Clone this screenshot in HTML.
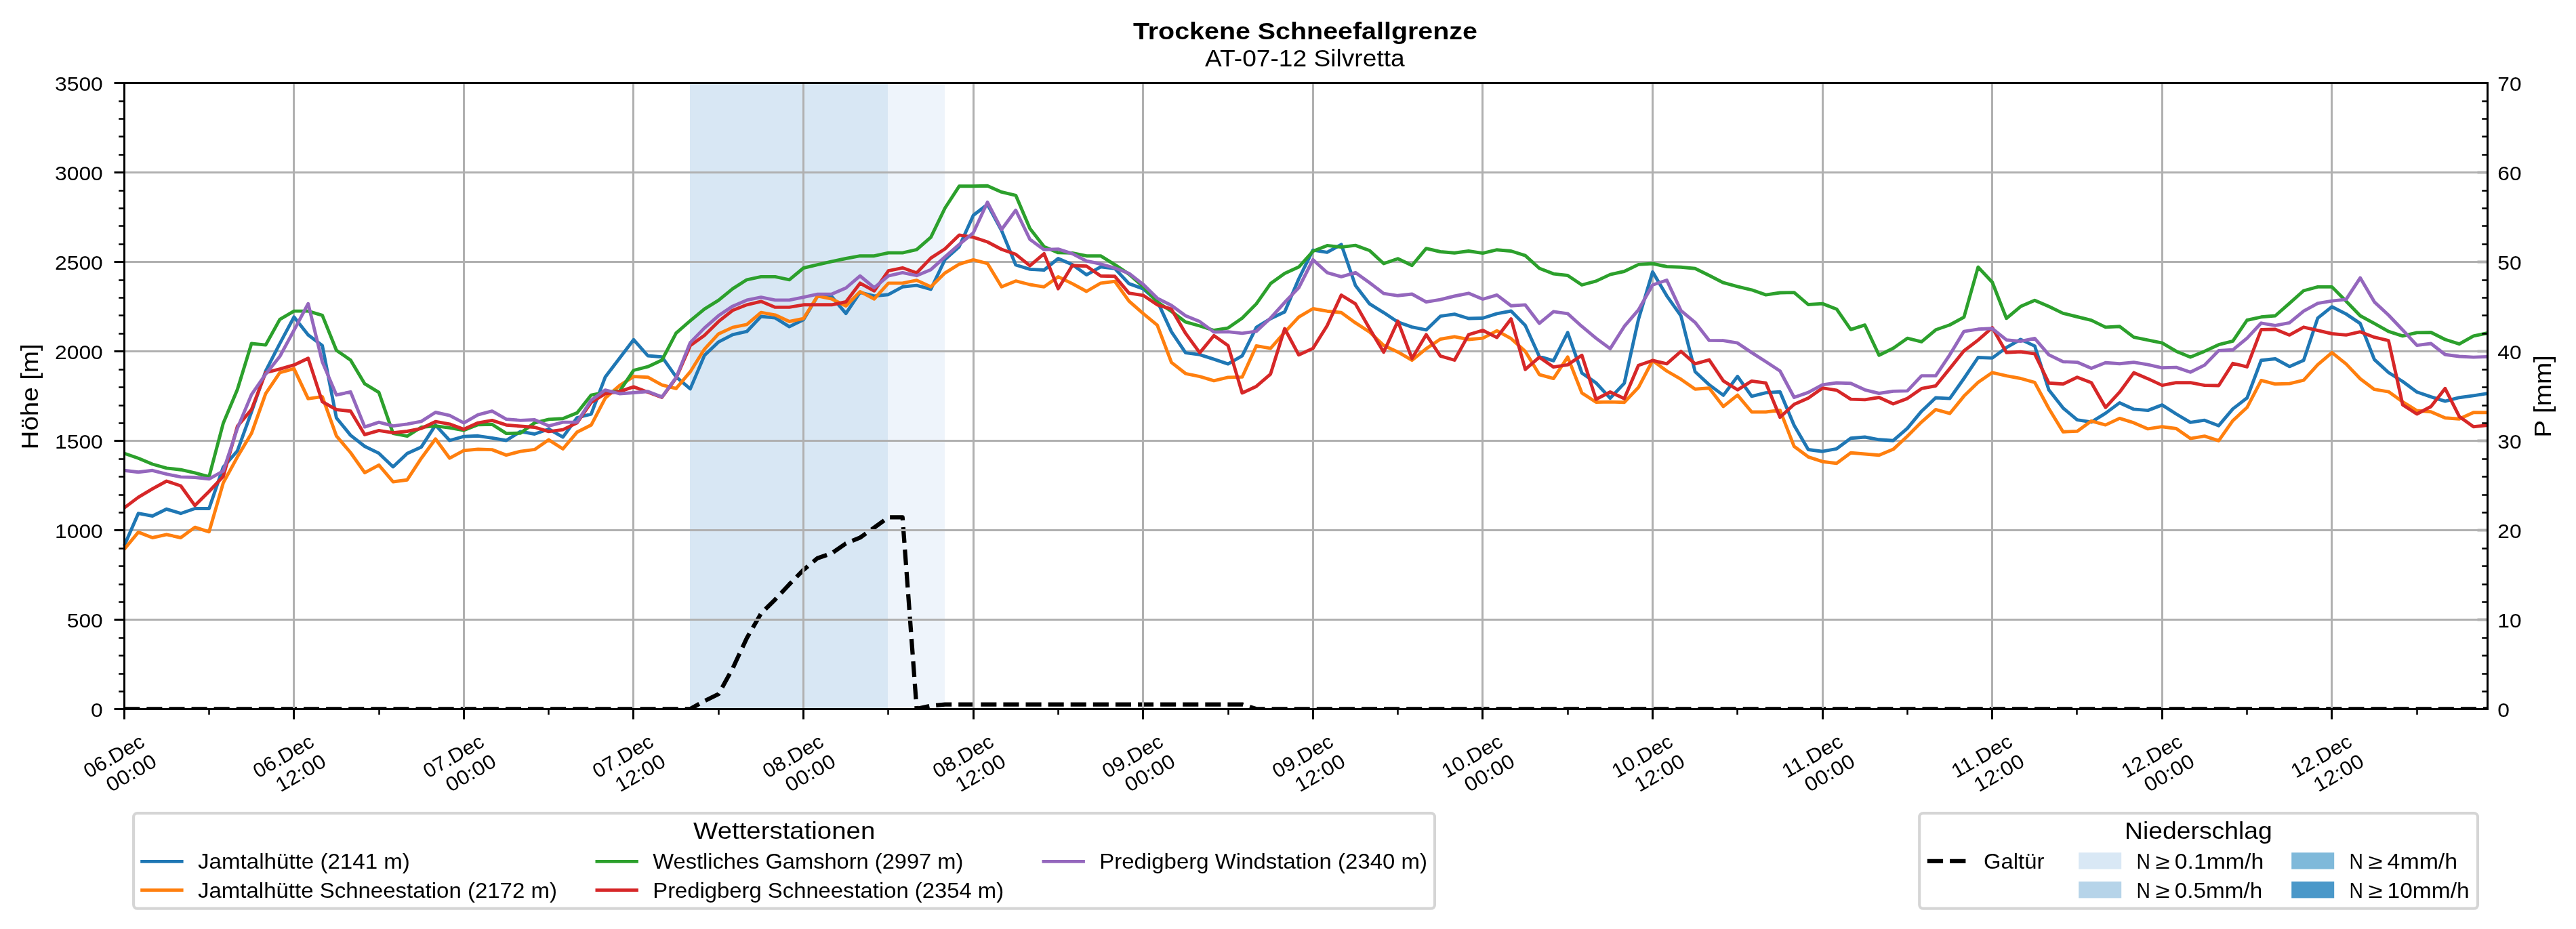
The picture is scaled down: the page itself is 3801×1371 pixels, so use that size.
<!DOCTYPE html>
<html lang="de"><head><meta charset="utf-8"><title>Trockene Schneefallgrenze</title>
<style>
html,body{margin:0;padding:0;background:#fff;}
body{width:3801px;height:1371px;overflow:hidden;font-family:"Liberation Sans",sans-serif;}
svg{display:block;}
svg text{font-family:"Liberation Sans",sans-serif;fill:#000;}
svg{will-change:transform;}
</style></head><body>
<svg width="3801" height="1371" viewBox="0 0 3801 1371">
<rect x="0" y="0" width="3801" height="1371" fill="#fff"/>
<clipPath id="ax"><rect x="183.5" y="122.5" width="3487.0" height="924.4"/></clipPath>
<rect x="1018" y="122.5" width="292" height="924.0" fill="#d8e7f4"/>
<rect x="1310" y="122.5" width="84" height="924.0" fill="#eef4fb"/>
<polyline clip-path="url(#ax)" points="183.2,1046.3 1018.5,1046.3 1039.4,1034.6 1060.3,1024.3 1081.1,986.4 1102.0,941.6 1122.9,905.4 1143.8,884.7 1164.7,862.3 1185.6,841.0 1206.4,823.7 1227.3,816.5 1248.2,802.0 1269.1,793.4 1290.0,778.6 1310.9,763.4 1331.7,763.4 1352.6,1046.0 1373.5,1041.5 1394.4,1039.6 1832.9,1039.6 1853.8,1046.3 3670.6,1046.3" fill="none" stroke="#000" stroke-width="6.25" stroke-dasharray="23.1 10" stroke-linejoin="round"/>
<path d="M433.5 122.5V1046.5M684.5 122.5V1046.5M934.5 122.5V1046.5M1185.5 122.5V1046.5M1436.5 122.5V1046.5M1686.5 122.5V1046.5M1937.5 122.5V1046.5M2187.5 122.5V1046.5M2438.5 122.5V1046.5M2689.5 122.5V1046.5M2939.5 122.5V1046.5M3190.5 122.5V1046.5M3440.5 122.5V1046.5M183.5 914.5H3670.5M183.5 782.5H3670.5M183.5 650.5H3670.5M183.5 518.5H3670.5M183.5 386.5H3670.5M183.5 254.5H3670.5" stroke="#b0b0b0" stroke-width="3" fill="none"/>
<polyline points="183.2,805.7 204.1,757.7 225.0,761.5 245.8,751.3 266.7,757.7 287.6,750.5 308.5,750.5 329.4,689.4 350.3,665.3 371.1,608.0 392.0,547.7 412.9,507.0 433.8,467.8 454.7,494.3 475.6,510.0 496.4,616.7 517.3,642.4 538.2,658.8 559.1,668.9 580.0,689.0 600.8,669.3 621.7,659.7 642.6,627.3 663.5,650.0 684.4,644.2 705.3,643.3 726.1,646.4 747.0,650.0 767.9,636.9 788.8,640.5 809.7,633.2 830.6,645.1 851.4,616.5 872.3,611.1 893.2,556.2 914.1,528.7 935.0,501.3 955.9,525.0 976.7,526.7 997.6,556.2 1018.5,573.9 1039.4,524.6 1060.3,504.6 1081.1,493.9 1102.0,489.2 1122.9,467.0 1143.8,469.1 1164.7,482.1 1185.6,471.7 1206.4,436.9 1227.3,437.9 1248.2,462.7 1269.1,431.5 1290.0,436.9 1310.9,434.7 1331.7,423.3 1352.6,421.1 1373.5,426.9 1394.4,383.0 1415.3,364.1 1436.2,317.8 1457.0,301.7 1477.9,340.4 1498.8,391.0 1519.7,397.4 1540.6,398.5 1561.4,381.5 1582.3,390.6 1603.2,405.6 1624.1,393.8 1645.0,396.4 1665.9,418.6 1686.7,426.1 1707.6,444.4 1728.5,489.6 1749.4,520.6 1770.3,523.4 1791.2,530.2 1812.0,537.1 1832.9,525.1 1853.8,483.2 1874.7,470.3 1895.6,460.3 1916.4,411.5 1937.3,369.1 1958.2,372.4 1979.1,360.8 2000.0,421.3 2020.9,448.4 2041.7,461.3 2062.6,475.3 2083.5,482.6 2104.4,486.9 2125.3,466.7 2146.2,463.6 2167.0,470.0 2187.9,469.5 2208.8,462.9 2229.7,459.0 2250.6,480.3 2271.4,526.2 2292.3,532.4 2313.2,490.8 2334.1,550.4 2355.0,565.0 2375.9,587.6 2396.7,565.6 2417.6,471.4 2438.5,401.3 2459.4,436.6 2480.3,466.2 2501.2,548.5 2522.0,567.9 2542.9,583.4 2563.8,555.5 2584.7,584.8 2605.6,579.6 2626.5,578.2 2647.3,627.8 2668.2,663.5 2689.1,666.2 2710.0,662.3 2730.9,646.8 2751.7,645.0 2772.6,648.8 2793.5,650.2 2814.4,632.1 2835.3,606.9 2856.2,587.0 2877.0,588.1 2897.9,558.5 2918.8,527.5 2939.7,528.4 2960.6,512.9 2981.5,500.9 3002.3,510.6 3023.2,575.5 3044.1,602.1 3065.0,619.6 3085.9,622.8 3106.8,609.9 3127.6,594.4 3148.5,603.9 3169.4,605.6 3190.3,597.6 3211.2,611.0 3232.0,623.3 3252.9,620.2 3273.8,628.2 3294.7,603.4 3315.6,587.3 3336.5,531.7 3357.3,529.5 3378.2,540.9 3399.1,531.7 3420.0,469.3 3440.9,452.7 3461.8,463.4 3482.6,477.4 3503.5,530.6 3524.4,549.7 3545.3,563.0 3566.2,578.5 3587.0,585.6 3607.9,592.1 3628.8,586.7 3649.7,583.9 3670.6,580.7" fill="none" stroke="#1f77b4" stroke-width="4.9" stroke-linejoin="round" stroke-linecap="butt"/>
<polyline points="183.2,810.7 204.1,785.4 225.0,793.5 245.8,788.8 266.7,793.5 287.6,778.1 308.5,784.8 329.4,712.7 350.3,674.3 371.1,639.6 392.0,580.9 412.9,549.8 433.8,544.1 454.7,588.4 475.6,585.4 496.4,643.3 517.3,668.0 538.2,697.6 559.1,686.3 580.0,711.0 600.8,708.2 621.7,676.2 642.6,647.8 663.5,676.2 684.4,664.9 705.3,663.0 726.1,663.6 747.0,671.6 767.9,666.1 788.8,663.4 809.7,649.1 830.6,662.5 851.4,637.8 872.3,627.3 893.2,587.4 914.1,569.1 935.0,555.6 955.9,556.7 976.7,568.1 997.6,573.4 1018.5,548.7 1039.4,515.3 1060.3,492.7 1081.1,483.1 1102.0,478.8 1122.9,461.2 1143.8,464.8 1164.7,474.5 1185.6,470.2 1206.4,436.9 1227.3,441.2 1248.2,451.5 1269.1,430.4 1290.0,441.2 1310.9,417.9 1331.7,417.9 1352.6,413.6 1373.5,423.3 1394.4,402.8 1415.3,389.9 1436.2,383.4 1457.0,388.8 1477.9,423.3 1498.8,414.7 1519.7,420.0 1540.6,423.3 1561.4,408.4 1582.3,418.6 1603.2,430.0 1624.1,417.9 1645.0,415.3 1665.9,444.4 1686.7,462.7 1707.6,479.8 1728.5,534.9 1749.4,551.3 1770.3,555.6 1791.2,561.9 1812.0,556.9 1832.9,556.4 1853.8,510.4 1874.7,514.2 1895.6,490.4 1916.4,467.8 1937.3,455.5 1958.2,459.2 1979.1,461.3 2000.0,476.4 2020.9,490.0 2041.7,509.8 2062.6,519.4 2083.5,531.6 2104.4,514.6 2125.3,500.5 2146.2,496.8 2167.0,501.0 2187.9,499.1 2208.8,488.1 2229.7,499.7 2250.6,518.5 2271.4,552.8 2292.3,558.6 2313.2,526.8 2334.1,579.9 2355.0,593.5 2375.9,593.1 2396.7,593.7 2417.6,571.8 2438.5,532.0 2459.4,547.5 2480.3,559.7 2501.2,574.3 2522.0,572.7 2542.9,599.9 2563.8,583.1 2584.7,608.0 2605.6,608.0 2626.5,605.4 2647.3,658.8 2668.2,674.3 2689.1,681.2 2710.0,683.8 2730.9,668.3 2751.7,670.0 2772.6,671.7 2793.5,663.1 2814.4,643.7 2835.3,622.8 2856.2,604.4 2877.0,610.2 2897.9,584.6 2918.8,564.3 2939.7,549.8 2960.6,554.6 2981.5,558.5 3002.3,564.3 3023.2,603.0 3044.1,637.3 3065.0,636.4 3085.9,621.3 3106.8,627.1 3127.6,617.4 3148.5,623.9 3169.4,632.9 3190.3,629.7 3211.2,632.5 3232.0,647.1 3252.9,643.7 3273.8,650.4 3294.7,620.7 3315.6,601.3 3336.5,561.4 3357.3,566.8 3378.2,566.1 3399.1,561.2 3420.0,538.1 3440.9,520.3 3461.8,537.1 3482.6,559.0 3503.5,574.7 3524.4,578.1 3545.3,593.1 3566.2,606.0 3587.0,607.8 3607.9,616.8 3628.8,618.3 3649.7,608.8 3670.6,608.8" fill="none" stroke="#ff7f0e" stroke-width="4.9" stroke-linejoin="round" stroke-linecap="butt"/>
<polyline points="183.2,669.0 204.1,676.3 225.0,685.0 245.8,690.9 266.7,693.2 287.6,697.8 308.5,703.6 329.4,624.6 350.3,574.8 371.1,507.0 392.0,509.1 412.9,471.4 433.8,459.1 454.7,459.1 475.6,465.4 496.4,517.0 517.3,531.4 538.2,566.4 559.1,579.2 580.0,639.6 600.8,643.6 621.7,630.5 642.6,628.6 663.5,631.4 684.4,635.0 705.3,626.8 726.1,626.3 747.0,639.6 767.9,639.2 788.8,624.1 809.7,618.9 830.6,617.7 851.4,609.4 872.3,583.1 893.2,578.8 914.1,577.3 935.0,546.5 955.9,541.2 976.7,531.5 997.6,491.7 1018.5,473.4 1039.4,456.1 1060.3,443.2 1081.1,426.1 1102.0,412.8 1122.9,408.4 1143.8,408.4 1164.7,412.8 1185.6,395.5 1206.4,390.6 1227.3,385.8 1248.2,381.5 1269.1,377.7 1290.0,377.7 1310.9,373.1 1331.7,373.1 1352.6,368.4 1373.5,350.1 1394.4,307.0 1415.3,274.8 1436.2,274.8 1457.0,274.3 1477.9,283.4 1498.8,288.3 1519.7,337.2 1540.6,364.1 1561.4,372.9 1582.3,373.4 1603.2,377.7 1624.1,377.7 1645.0,390.6 1665.9,404.6 1686.7,422.9 1707.6,445.5 1728.5,459.5 1749.4,475.2 1770.3,481.0 1791.2,487.5 1812.0,484.1 1832.9,469.5 1853.8,448.4 1874.7,418.6 1895.6,403.4 1916.4,394.1 1937.3,370.8 1958.2,362.4 1979.1,364.6 2000.0,362.1 2020.9,369.7 2041.7,389.0 2062.6,381.7 2083.5,391.8 2104.4,366.6 2125.3,371.5 2146.2,373.3 2167.0,370.5 2187.9,373.6 2208.8,368.7 2229.7,370.5 2250.6,377.1 2271.4,396.0 2292.3,404.1 2313.2,406.5 2334.1,420.5 2355.0,414.9 2375.9,405.1 2396.7,400.5 2417.6,390.4 2438.5,389.0 2459.4,393.5 2480.3,394.3 2501.2,396.3 2522.0,406.5 2542.9,417.2 2563.8,422.9 2584.7,427.8 2605.6,435.1 2626.5,432.0 2647.3,431.6 2668.2,449.5 2689.1,448.1 2710.0,456.2 2730.9,486.3 2751.7,479.7 2772.6,524.2 2793.5,514.0 2814.4,499.2 2835.3,504.3 2856.2,486.8 2877.0,479.5 2897.9,468.2 2918.8,394.2 2939.7,416.5 2960.6,469.8 2981.5,452.3 3002.3,443.2 3023.2,452.3 3044.1,462.4 3065.0,467.5 3085.9,472.6 3106.8,482.9 3127.6,481.8 3148.5,497.6 3169.4,501.9 3190.3,506.2 3211.2,518.4 3232.0,527.0 3252.9,518.4 3273.8,508.7 3294.7,503.4 3315.6,472.5 3336.5,467.8 3357.3,466.0 3378.2,447.7 3399.1,429.0 3420.0,423.4 3440.9,423.4 3461.8,444.5 3482.6,466.0 3503.5,477.4 3524.4,489.2 3545.3,495.8 3566.2,490.9 3587.0,490.5 3607.9,501.0 3628.8,507.7 3649.7,495.8 3670.6,491.5" fill="none" stroke="#2ca02c" stroke-width="4.9" stroke-linejoin="round" stroke-linecap="butt"/>
<polyline points="183.2,749.6 204.1,733.9 225.0,721.4 245.8,710.0 266.7,717.0 287.6,746.1 308.5,725.2 329.4,703.1 350.3,629.1 371.1,604.4 392.0,549.8 412.9,544.7 433.8,538.7 454.7,528.7 475.6,592.9 496.4,604.5 517.3,606.7 538.2,641.4 559.1,635.4 580.0,638.7 600.8,636.5 621.7,632.3 642.6,622.2 663.5,625.9 684.4,633.6 705.3,624.1 726.1,620.4 747.0,627.2 767.9,629.0 788.8,630.5 809.7,636.9 830.6,634.1 851.4,624.1 872.3,593.9 893.2,581.0 914.1,577.8 935.0,570.9 955.9,578.8 976.7,586.4 997.6,558.0 1018.5,510.0 1039.4,494.9 1060.3,474.4 1081.1,458.0 1102.0,449.8 1122.9,444.8 1143.8,453.4 1164.7,453.4 1185.6,449.8 1206.4,449.8 1227.3,449.8 1248.2,445.5 1269.1,417.9 1290.0,429.3 1310.9,399.6 1331.7,395.3 1352.6,402.8 1373.5,380.9 1394.4,367.3 1415.3,346.9 1436.2,350.1 1457.0,357.0 1477.9,368.0 1498.8,375.3 1519.7,392.1 1540.6,374.4 1561.4,426.1 1582.3,391.7 1603.2,392.7 1624.1,407.2 1645.0,407.8 1665.9,432.6 1686.7,435.8 1707.6,449.8 1728.5,456.2 1749.4,491.9 1770.3,520.6 1791.2,495.3 1812.0,509.9 1832.9,580.0 1853.8,570.2 1874.7,552.1 1895.6,485.0 1916.4,523.8 1937.3,514.1 1958.2,480.7 1979.1,435.5 2000.0,448.4 2020.9,485.0 2041.7,519.8 2062.6,473.9 2083.5,529.1 2104.4,493.9 2125.3,525.3 2146.2,531.5 2167.0,493.9 2187.9,487.5 2208.8,498.1 2229.7,470.6 2250.6,545.2 2271.4,527.2 2292.3,541.7 2313.2,538.4 2334.1,524.3 2355.0,589.2 2375.9,578.5 2396.7,588.2 2417.6,539.2 2438.5,532.0 2459.4,536.9 2480.3,518.5 2501.2,536.9 2522.0,531.1 2542.9,562.1 2563.8,575.3 2584.7,562.4 2605.6,565.3 2626.5,615.8 2647.3,596.8 2668.2,587.4 2689.1,572.7 2710.0,575.8 2730.9,589.1 2751.7,589.9 2772.6,586.5 2793.5,596.0 2814.4,588.1 2835.3,573.4 2856.2,569.5 2877.0,543.9 2897.9,517.8 2918.8,501.9 2939.7,483.5 2960.6,520.3 2981.5,519.1 3002.3,522.2 3023.2,565.3 3044.1,566.8 3065.0,556.7 3085.9,564.7 3106.8,601.3 3127.6,578.7 3148.5,550.1 3169.4,558.9 3190.3,568.6 3211.2,564.7 3232.0,564.7 3252.9,568.6 3273.8,569.0 3294.7,536.3 3315.6,541.4 3336.5,486.5 3357.3,486.0 3378.2,494.4 3399.1,482.8 3420.0,487.6 3440.9,492.5 3461.8,494.4 3482.6,489.7 3503.5,497.7 3524.4,502.7 3545.3,597.4 3566.2,611.0 3587.0,600.0 3607.9,573.3 3628.8,614.7 3649.7,629.7 3670.6,627.6" fill="none" stroke="#d62728" stroke-width="4.9" stroke-linejoin="round" stroke-linecap="butt"/>
<polyline points="183.2,694.3 204.1,696.7 225.0,694.3 245.8,699.6 266.7,703.9 287.6,704.5 308.5,706.8 329.4,695.2 350.3,632.1 371.1,582.4 392.0,552.2 412.9,526.0 433.8,487.4 454.7,448.2 475.6,534.1 496.4,582.9 517.3,578.3 538.2,630.1 559.1,623.1 580.0,628.6 600.8,625.9 621.7,621.9 642.6,608.5 663.5,613.1 684.4,624.1 705.3,612.2 726.1,606.7 747.0,618.6 767.9,620.4 788.8,619.5 809.7,628.6 830.6,623.1 851.4,623.1 872.3,590.7 893.2,575.6 914.1,581.0 935.0,579.5 955.9,577.8 976.7,585.9 997.6,557.3 1018.5,505.6 1039.4,484.1 1060.3,465.8 1081.1,451.9 1102.0,442.9 1122.9,438.6 1143.8,442.9 1164.7,442.9 1185.6,438.6 1206.4,434.1 1227.3,434.1 1248.2,425.0 1269.1,407.2 1290.0,424.6 1310.9,407.1 1331.7,402.4 1352.6,406.7 1373.5,397.9 1394.4,379.1 1415.3,360.8 1436.2,343.6 1457.0,298.4 1477.9,338.7 1498.8,310.3 1519.7,353.3 1540.6,368.4 1561.4,367.6 1582.3,374.4 1603.2,385.2 1624.1,389.5 1645.0,395.5 1665.9,403.5 1686.7,419.6 1707.6,440.1 1728.5,450.8 1749.4,465.9 1770.3,474.6 1791.2,490.1 1812.0,489.6 1832.9,491.9 1853.8,488.9 1874.7,469.5 1895.6,446.3 1916.4,424.6 1937.3,383.3 1958.2,402.3 1979.1,408.3 2000.0,402.3 2020.9,417.2 2041.7,433.1 2062.6,436.3 2083.5,434.0 2104.4,445.7 2125.3,442.2 2146.2,437.0 2167.0,432.8 2187.9,441.5 2208.8,435.4 2229.7,451.3 2250.6,449.9 2271.4,477.2 2292.3,459.8 2313.2,462.9 2334.1,481.7 2355.0,499.1 2375.9,514.6 2396.7,481.7 2417.6,457.4 2438.5,420.5 2459.4,413.5 2480.3,458.4 2501.2,475.8 2522.0,502.4 2542.9,502.6 2563.8,506.2 2584.7,520.4 2605.6,533.7 2626.5,547.5 2647.3,586.5 2668.2,579.1 2689.1,567.9 2710.0,565.0 2730.9,565.8 2751.7,575.3 2772.6,580.5 2793.5,577.4 2814.4,576.9 2835.3,554.6 2856.2,554.6 2877.0,523.6 2897.9,489.1 2918.8,485.8 2939.7,484.8 2960.6,501.7 2981.5,503.6 3002.3,499.4 3023.2,523.6 3044.1,533.7 3065.0,534.6 3085.9,543.6 3106.8,535.2 3127.6,536.7 3148.5,534.6 3169.4,538.2 3190.3,542.8 3211.2,542.1 3232.0,549.2 3252.9,538.9 3273.8,517.4 3294.7,516.3 3315.6,499.1 3336.5,476.8 3357.3,480.4 3378.2,476.4 3399.1,459.1 3420.0,447.7 3440.9,444.1 3461.8,441.9 3482.6,410.1 3503.5,445.6 3524.4,465.0 3545.3,487.0 3566.2,509.6 3587.0,507.0 3607.9,523.2 3628.8,526.0 3649.7,527.1 3670.6,526.4" fill="none" stroke="#9467bd" stroke-width="4.9" stroke-linejoin="round" stroke-linecap="butt"/>
<path d="M3670.5 914.5h-15M3670.5 782.5h-15M3670.5 650.5h-15M3670.5 518.5h-15M3670.5 386.5h-15M3670.5 254.5h-15" stroke="#b0b0b0" stroke-width="4.2" fill="none"/>
<path d="M3670.5 1020.5h-8.3M3670.5 994.5h-8.3M3670.5 967.5h-8.3M3670.5 941.5h-8.3M3670.5 888.5h-8.3M3670.5 862.5h-8.3M3670.5 835.5h-8.3M3670.5 809.5h-8.3M3670.5 756.5h-8.3M3670.5 730.5h-8.3M3670.5 703.5h-8.3M3670.5 677.5h-8.3M3670.5 624.5h-8.3M3670.5 598.5h-8.3M3670.5 571.5h-8.3M3670.5 545.5h-8.3M3670.5 492.5h-8.3M3670.5 465.5h-8.3M3670.5 439.5h-8.3M3670.5 413.5h-8.3M3670.5 360.5h-8.3M3670.5 333.5h-8.3M3670.5 307.5h-8.3M3670.5 281.5h-8.3M3670.5 228.5h-8.3M3670.5 201.5h-8.3M3670.5 175.5h-8.3M3670.5 149.5h-8.3M183.5 1020.5h-8.3M183.5 994.5h-8.3M183.5 967.5h-8.3M183.5 941.5h-8.3M183.5 888.5h-8.3M183.5 862.5h-8.3M183.5 835.5h-8.3M183.5 809.5h-8.3M183.5 756.5h-8.3M183.5 730.5h-8.3M183.5 703.5h-8.3M183.5 677.5h-8.3M183.5 624.5h-8.3M183.5 598.5h-8.3M183.5 571.5h-8.3M183.5 545.5h-8.3M183.5 492.5h-8.3M183.5 465.5h-8.3M183.5 439.5h-8.3M183.5 413.5h-8.3M183.5 360.5h-8.3M183.5 333.5h-8.3M183.5 307.5h-8.3M183.5 281.5h-8.3M183.5 228.5h-8.3M183.5 201.5h-8.3M183.5 175.5h-8.3M183.5 149.5h-8.3M308.5 1046.5v8.3M559.5 1046.5v8.3M809.5 1046.5v8.3M1060.5 1046.5v8.3M1310.5 1046.5v8.3M1561.5 1046.5v8.3M1812.5 1046.5v8.3M2062.5 1046.5v8.3M2313.5 1046.5v8.3M2563.5 1046.5v8.3M2814.5 1046.5v8.3M3064.5 1046.5v8.3M3315.5 1046.5v8.3M3566.5 1046.5v8.3" stroke="#000" stroke-width="2.5" fill="none"/>
<path d="M183.5 1046.5h-15M183.5 914.5h-15M183.5 782.5h-15M183.5 650.5h-15M183.5 518.5h-15M183.5 386.5h-15M183.5 254.5h-15M183.5 122.5h-15M183.5 1046.5v15M433.5 1046.5v15M684.5 1046.5v15M934.5 1046.5v15M1185.5 1046.5v15M1436.5 1046.5v15M1686.5 1046.5v15M1937.5 1046.5v15M2187.5 1046.5v15M2438.5 1046.5v15M2689.5 1046.5v15M2939.5 1046.5v15M3190.5 1046.5v15M3440.5 1046.5v15" stroke="#000" stroke-width="3" fill="none"/>
<rect x="183.5" y="122.5" width="3487.0" height="924.0" fill="none" stroke="#000" stroke-width="3"/>
<text x="134.1" y="1057.7" font-size="29.86" textLength="17.7" lengthAdjust="spacingAndGlyphs">0</text>
<text x="98.8" y="925.7" font-size="29.86" textLength="53.0" lengthAdjust="spacingAndGlyphs">500</text>
<text x="81.1" y="793.7" font-size="29.86" textLength="70.7" lengthAdjust="spacingAndGlyphs">1000</text>
<text x="81.1" y="661.7" font-size="29.86" textLength="70.7" lengthAdjust="spacingAndGlyphs">1500</text>
<text x="81.1" y="529.7" font-size="29.86" textLength="70.7" lengthAdjust="spacingAndGlyphs">2000</text>
<text x="81.1" y="397.7" font-size="29.86" textLength="70.7" lengthAdjust="spacingAndGlyphs">2500</text>
<text x="81.1" y="265.7" font-size="29.86" textLength="70.7" lengthAdjust="spacingAndGlyphs">3000</text>
<text x="81.1" y="133.7" font-size="29.86" textLength="70.7" lengthAdjust="spacingAndGlyphs">3500</text>
<text x="3685.3" y="1057.7" font-size="29.86" textLength="17.7" lengthAdjust="spacingAndGlyphs">0</text>
<text x="3685.3" y="925.7" font-size="29.86" textLength="35.3" lengthAdjust="spacingAndGlyphs">10</text>
<text x="3685.3" y="793.7" font-size="29.86" textLength="35.3" lengthAdjust="spacingAndGlyphs">20</text>
<text x="3685.3" y="661.7" font-size="29.86" textLength="35.3" lengthAdjust="spacingAndGlyphs">30</text>
<text x="3685.3" y="529.7" font-size="29.86" textLength="35.3" lengthAdjust="spacingAndGlyphs">40</text>
<text x="3685.3" y="397.7" font-size="29.86" textLength="35.3" lengthAdjust="spacingAndGlyphs">50</text>
<text x="3685.3" y="265.7" font-size="29.86" textLength="35.3" lengthAdjust="spacingAndGlyphs">60</text>
<text x="3685.3" y="133.7" font-size="29.86" textLength="35.3" lengthAdjust="spacingAndGlyphs">70</text>
<g transform="translate(167.9 1115.6) rotate(-30)"><text x="-49.0" y="10.4" font-size="29.72" textLength="97.9" lengthAdjust="spacingAndGlyphs">06.Dec</text></g>
<g transform="translate(193.4 1140.5) rotate(-30)"><text x="-40.0" y="10.4" font-size="29.86" textLength="80.1" lengthAdjust="spacingAndGlyphs">00:00</text></g>
<g transform="translate(417.9 1115.6) rotate(-30)"><text x="-49.0" y="10.4" font-size="29.72" textLength="97.9" lengthAdjust="spacingAndGlyphs">06.Dec</text></g>
<g transform="translate(443.4 1140.5) rotate(-30)"><text x="-40.0" y="10.4" font-size="29.86" textLength="80.1" lengthAdjust="spacingAndGlyphs">12:00</text></g>
<g transform="translate(668.9 1115.6) rotate(-30)"><text x="-49.0" y="10.4" font-size="29.72" textLength="97.9" lengthAdjust="spacingAndGlyphs">07.Dec</text></g>
<g transform="translate(694.4 1140.5) rotate(-30)"><text x="-40.0" y="10.4" font-size="29.86" textLength="80.1" lengthAdjust="spacingAndGlyphs">00:00</text></g>
<g transform="translate(918.9 1115.6) rotate(-30)"><text x="-49.0" y="10.4" font-size="29.72" textLength="97.9" lengthAdjust="spacingAndGlyphs">07.Dec</text></g>
<g transform="translate(944.4 1140.5) rotate(-30)"><text x="-40.0" y="10.4" font-size="29.86" textLength="80.1" lengthAdjust="spacingAndGlyphs">12:00</text></g>
<g transform="translate(1169.9 1115.6) rotate(-30)"><text x="-49.0" y="10.4" font-size="29.72" textLength="97.9" lengthAdjust="spacingAndGlyphs">08.Dec</text></g>
<g transform="translate(1195.4 1140.5) rotate(-30)"><text x="-40.0" y="10.4" font-size="29.86" textLength="80.1" lengthAdjust="spacingAndGlyphs">00:00</text></g>
<g transform="translate(1420.9 1115.6) rotate(-30)"><text x="-49.0" y="10.4" font-size="29.72" textLength="97.9" lengthAdjust="spacingAndGlyphs">08.Dec</text></g>
<g transform="translate(1446.4 1140.5) rotate(-30)"><text x="-40.0" y="10.4" font-size="29.86" textLength="80.1" lengthAdjust="spacingAndGlyphs">12:00</text></g>
<g transform="translate(1670.9 1115.6) rotate(-30)"><text x="-49.0" y="10.4" font-size="29.72" textLength="97.9" lengthAdjust="spacingAndGlyphs">09.Dec</text></g>
<g transform="translate(1696.4 1140.5) rotate(-30)"><text x="-40.0" y="10.4" font-size="29.86" textLength="80.1" lengthAdjust="spacingAndGlyphs">00:00</text></g>
<g transform="translate(1921.9 1115.6) rotate(-30)"><text x="-49.0" y="10.4" font-size="29.72" textLength="97.9" lengthAdjust="spacingAndGlyphs">09.Dec</text></g>
<g transform="translate(1947.4 1140.5) rotate(-30)"><text x="-40.0" y="10.4" font-size="29.86" textLength="80.1" lengthAdjust="spacingAndGlyphs">12:00</text></g>
<g transform="translate(2171.9 1115.6) rotate(-30)"><text x="-49.0" y="10.4" font-size="29.72" textLength="97.9" lengthAdjust="spacingAndGlyphs">10.Dec</text></g>
<g transform="translate(2197.4 1140.5) rotate(-30)"><text x="-40.0" y="10.4" font-size="29.86" textLength="80.1" lengthAdjust="spacingAndGlyphs">00:00</text></g>
<g transform="translate(2422.9 1115.6) rotate(-30)"><text x="-49.0" y="10.4" font-size="29.72" textLength="97.9" lengthAdjust="spacingAndGlyphs">10.Dec</text></g>
<g transform="translate(2448.4 1140.5) rotate(-30)"><text x="-40.0" y="10.4" font-size="29.86" textLength="80.1" lengthAdjust="spacingAndGlyphs">12:00</text></g>
<g transform="translate(2673.9 1115.6) rotate(-30)"><text x="-49.0" y="10.4" font-size="29.72" textLength="97.9" lengthAdjust="spacingAndGlyphs">11.Dec</text></g>
<g transform="translate(2699.4 1140.5) rotate(-30)"><text x="-40.0" y="10.4" font-size="29.86" textLength="80.1" lengthAdjust="spacingAndGlyphs">00:00</text></g>
<g transform="translate(2923.9 1115.6) rotate(-30)"><text x="-49.0" y="10.4" font-size="29.72" textLength="97.9" lengthAdjust="spacingAndGlyphs">11.Dec</text></g>
<g transform="translate(2949.4 1140.5) rotate(-30)"><text x="-40.0" y="10.4" font-size="29.86" textLength="80.1" lengthAdjust="spacingAndGlyphs">12:00</text></g>
<g transform="translate(3174.9 1115.6) rotate(-30)"><text x="-49.0" y="10.4" font-size="29.72" textLength="97.9" lengthAdjust="spacingAndGlyphs">12.Dec</text></g>
<g transform="translate(3200.4 1140.5) rotate(-30)"><text x="-40.0" y="10.4" font-size="29.86" textLength="80.1" lengthAdjust="spacingAndGlyphs">00:00</text></g>
<g transform="translate(3424.9 1115.6) rotate(-30)"><text x="-49.0" y="10.4" font-size="29.72" textLength="97.9" lengthAdjust="spacingAndGlyphs">12.Dec</text></g>
<g transform="translate(3450.4 1140.5) rotate(-30)"><text x="-40.0" y="10.4" font-size="29.86" textLength="80.1" lengthAdjust="spacingAndGlyphs">12:00</text></g>
<g transform="translate(56.3 585.3) rotate(-90)"><text x="-78.1" y="0.0" font-size="35.16" textLength="156.2" lengthAdjust="spacingAndGlyphs">Höhe [m]</text></g>
<g transform="translate(3763.6 585.0) rotate(-90)"><text x="-60.8" y="0.0" font-size="35.16" textLength="121.6" lengthAdjust="spacingAndGlyphs">P [mm]</text></g>
<text x="1671.9" y="58.2" font-size="35.16" font-weight="bold" textLength="508.0" lengthAdjust="spacingAndGlyphs">Trockene Schneefallgrenze</text>
<text x="1778.1" y="98.1" font-size="35.16" textLength="294.6" lengthAdjust="spacingAndGlyphs">AT-07-12 Silvretta</text>
<rect x="197.1" y="1200.1" width="1919.9" height="140.7" rx="5.5" ry="5.5" fill="#fff" stroke="#d5d5d5" stroke-width="4.1"/>
<text x="1023.1" y="1238.2" font-size="35.16" textLength="268.2" lengthAdjust="spacingAndGlyphs">Wetterstationen</text>
<path d="M207.2 1271.4h63.4" stroke="#1f77b4" stroke-width="4.9" fill="none"/>
<text x="292.0" y="1282.0" font-size="30.77" textLength="312.9" lengthAdjust="spacingAndGlyphs">Jamtalhütte (2141 m)</text>
<path d="M207.2 1313.6h63.4" stroke="#ff7f0e" stroke-width="4.9" fill="none"/>
<text x="292.0" y="1324.8" font-size="30.77" textLength="529.9" lengthAdjust="spacingAndGlyphs">Jamtalhütte Schneestation (2172 m)</text>
<path d="M878.5 1271.4h63.4" stroke="#2ca02c" stroke-width="4.9" fill="none"/>
<text x="963.3" y="1282.0" font-size="30.77" textLength="458.0" lengthAdjust="spacingAndGlyphs">Westliches Gamshorn (2997 m)</text>
<path d="M878.5 1313.6h63.4" stroke="#d62728" stroke-width="4.9" fill="none"/>
<text x="963.3" y="1324.8" font-size="30.77" textLength="517.8" lengthAdjust="spacingAndGlyphs">Predigberg Schneestation (2354 m)</text>
<path d="M1537.5 1271.4h63.4" stroke="#9467bd" stroke-width="4.9" fill="none"/>
<text x="1622.3" y="1282.0" font-size="30.77" textLength="483.7" lengthAdjust="spacingAndGlyphs">Predigberg Windstation (2340 m)</text>
<rect x="2832.2" y="1200.1" width="823.8" height="140.7" rx="5.5" ry="5.5" fill="#fff" stroke="#d5d5d5" stroke-width="4.1"/>
<text x="3135.1" y="1238.3" font-size="35.16" textLength="217.7" lengthAdjust="spacingAndGlyphs">Niederschlag</text>
<path d="M2843.8 1270.9h23.3m10 0h23.3" stroke="#000" stroke-width="6.25" fill="none"/>
<text x="2927.0" y="1282.0" font-size="30.77" textLength="89.3" lengthAdjust="spacingAndGlyphs">Galtür</text>
<rect x="3067.2" y="1258.2" width="63" height="24.5" fill="#d9e8f5"/>
<text y="1282.0" font-size="30.77"><tspan x="3152.6" textLength="20.4" lengthAdjust="spacingAndGlyphs">N</tspan> <tspan x="3180.5" textLength="21.0" lengthAdjust="spacingAndGlyphs">≥</tspan> <tspan x="3208.7" textLength="131.5" lengthAdjust="spacingAndGlyphs">0.1mm/h</tspan></text>
<rect x="3067.2" y="1300.9" width="63" height="24.5" fill="#b6d4e9"/>
<text y="1325.0" font-size="30.77"><tspan x="3152.6" textLength="20.4" lengthAdjust="spacingAndGlyphs">N</tspan> <tspan x="3180.5" textLength="21.0" lengthAdjust="spacingAndGlyphs">≥</tspan> <tspan x="3208.7" textLength="129.5" lengthAdjust="spacingAndGlyphs">0.5mm/h</tspan></text>
<rect x="3381.2" y="1258.2" width="63" height="24.5" fill="#7fb9da"/>
<text y="1282.0" font-size="30.77"><tspan x="3466.5" textLength="20.4" lengthAdjust="spacingAndGlyphs">N</tspan> <tspan x="3494.4" textLength="21.0" lengthAdjust="spacingAndGlyphs">≥</tspan> <tspan x="3522.6" textLength="103.5" lengthAdjust="spacingAndGlyphs">4mm/h</tspan></text>
<rect x="3381.2" y="1300.9" width="63" height="24.5" fill="#4a98c9"/>
<text y="1325.0" font-size="30.77"><tspan x="3466.5" textLength="20.4" lengthAdjust="spacingAndGlyphs">N</tspan> <tspan x="3494.4" textLength="21.0" lengthAdjust="spacingAndGlyphs">≥</tspan> <tspan x="3522.6" textLength="121.0" lengthAdjust="spacingAndGlyphs">10mm/h</tspan></text>
</svg>
</body></html>
